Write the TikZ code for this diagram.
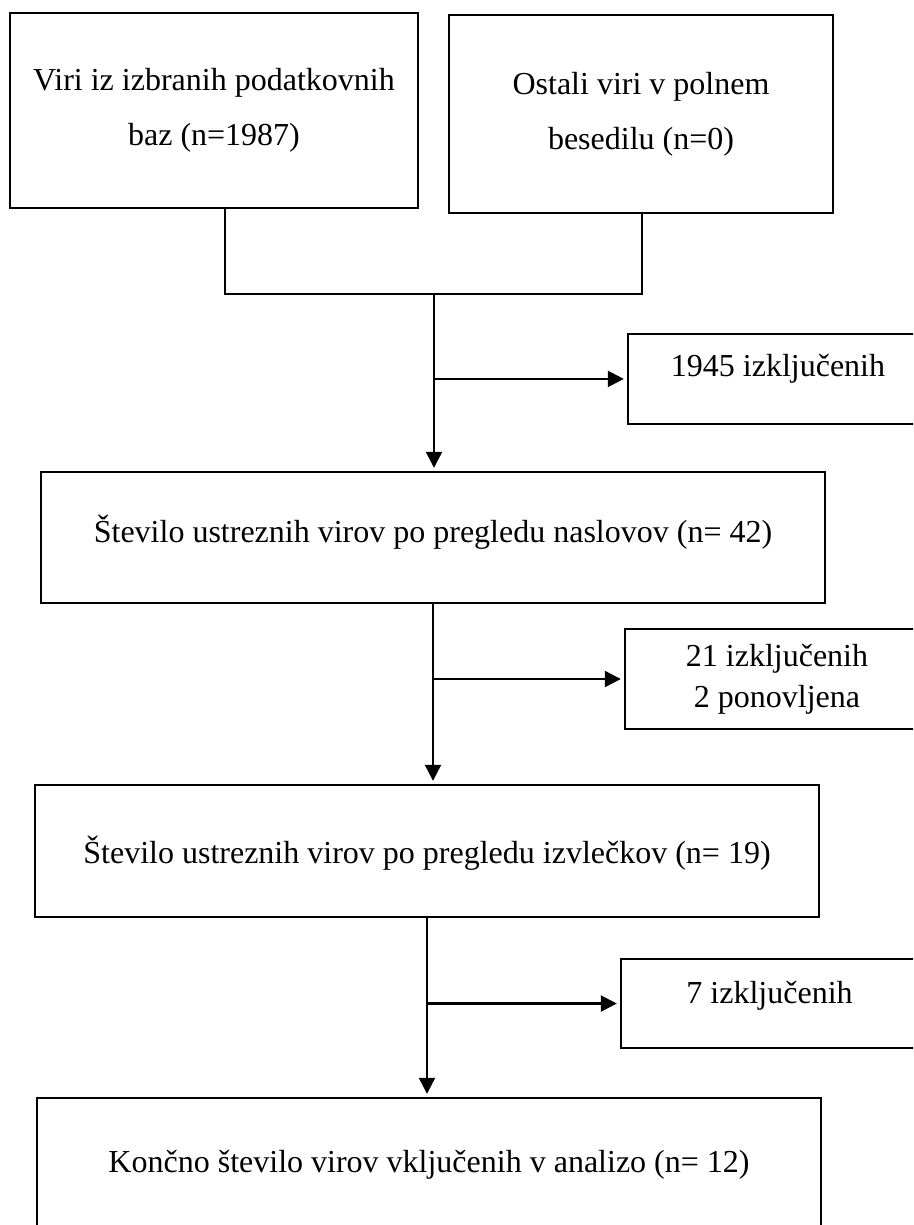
\documentclass[tikz,border=0pt]{standalone}
\usepackage{fontspec}
\setmainfont{Liberation Serif}
\usetikzlibrary{arrows.meta,positioning}

\begin{document}
\begin{tikzpicture}[
  x=0.375pt,
  y=-0.375pt,
  font=\fontsize{12}{14.4}\selectfont,
  >={Triangle[length=6pt,width=6pt]},
  box/.style={
    draw,
    line width=0.75pt,
    inner sep=0pt,
    anchor=north west
  },
  srcbox/.style={
    box,
    align=center,
    font=\fontsize{12}{20.6}\selectfont
  },
  stagebox/.style={
    box,
    minimum width=294pt
  },
  exclbox/.style={
    box
  },
  conn/.style={
    line width=0.85pt
  },
  arr/.style={
    conn,
    ->,
    shorten >=1.2pt
  }
]

\useasboundingbox (0,0) rectangle (913,1225);
\clip (0,0) rectangle (913,1225);

% sources
\node[srcbox, minimum width=153pt, minimum height=73.1pt] (src) at (9,12)
  {Viri iz izbranih podatkovnih\\baz (n=1987)};
\node[srcbox, minimum width=144pt, minimum height=74.25pt] (oth) at (448,14)
  {Ostali viri v polnem\\besedilu (n=0)};

% screening stages
\node[stagebox, text height=26.6pt, text depth=22.5pt] (tit) at (40,471)
  {Število ustreznih virov po pregledu naslovov (n= 42)};
\node[stagebox, text height=29.25pt, text depth=20.25pt] (abs) at (34,784)
  {Število ustreznih virov po pregledu izvlečkov (n= 19)};
\node[stagebox, text height=27.75pt, text depth=24pt] (fin) at (36,1097)
  {Končno število virov vključenih v analizo (n= 12)};

% exclusions
\node[exclbox, minimum width=112.5pt, text height=16.1pt, text depth=17.6pt] (ex1) at (627,333)
  {1945 izključenih};
\node[exclbox, align=center, minimum width=114pt, minimum height=37.5pt,
  font=\fontsize{12}{15.4}\selectfont] (ex2) at (624,628)
  {21 izključenih\\2 ponovljena};
\node[exclbox, minimum width=111.4pt, text height=16.5pt, text depth=16.9pt] (ex3) at (620,958)
  {7 izključenih};

\coordinate (jA) at (225,294);
\coordinate (jB) at (642,294);
\coordinate (jM) at (434,294);

\draw[conn] (src.south -| jA) -- (jA) -- (jB) -- (oth.south -| jB);
\draw[arr] (jM) -- (jM |- tit.north);
\draw[arr] (jM |- ex1.west) -- (ex1.west);

\draw[arr] (tit.south) -- (tit.south |- abs.north);
\draw[arr] (tit.south |- ex2.west) -- (ex2.west);

\draw[arr] (abs.south) -- (abs.south |- fin.north);
\draw[arr] (abs.south |- ex3.west) -- (ex3.west);

\end{tikzpicture}
\end{document}
